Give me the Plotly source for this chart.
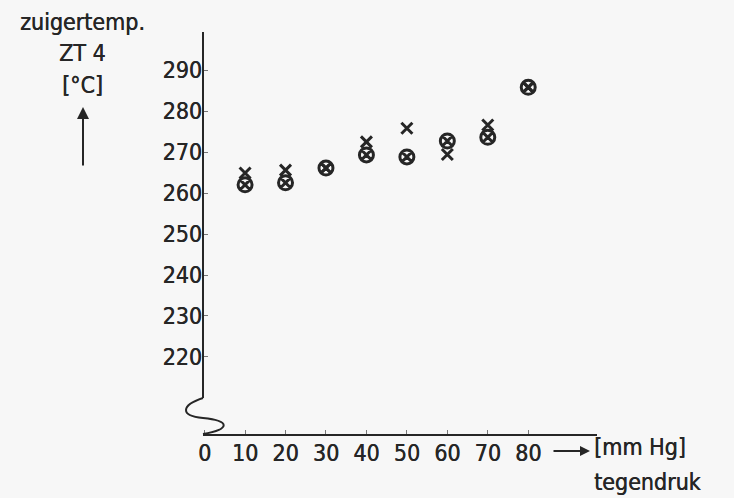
import plotly.graph_objects as go

# data
pressure = [10, 20, 30, 40, 50, 60, 70, 80]
temp_circles = [262.0, 262.5, 266.1, 269.3, 268.8, 272.7, 273.6, 285.8]
temp_crosses = [264.9, 265.6, 266.1, 272.5, 275.8, 269.4, 276.6, 285.8]
y_ticks = [220, 230, 240, 250, 260, 270, 280, 290]
x_ticks = [0, 10, 20, 30, 40, 50, 60, 70, 80]

INK = "#262626"
BG = "#f7f7f7"
FONT = "DejaVu Sans Condensed, DejaVu Sans, sans-serif"
FS = 23
SHADOW = "0.4px 0 0 %s" % INK

def tfont(size=FS):
    return dict(size=size, family=FONT, color=INK, shadow=SHADOW)

fig = go.Figure()
fig.add_trace(go.Scatter(
    x=pressure, y=temp_crosses, mode="markers",
    marker=dict(symbol="x-thin-open", size=11, color=INK, line=dict(color=INK, width=3)),
    showlegend=False, hoverinfo="x+y"))
fig.add_trace(go.Scatter(
    x=pressure, y=temp_circles, mode="markers",
    marker=dict(symbol="circle-x-open", size=14, color=INK, line=dict(color=INK, width=3)),
    showlegend=False, hoverinfo="x+y"))

fig.update_layout(
    width=734, height=498,
    margin=dict(l=203, r=137, t=32, b=64),
    paper_bgcolor=BG, plot_bgcolor=BG,
    font=dict(family=FONT, size=FS, color=INK),
    xaxis=dict(range=[-0.4, 97.0], tickvals=x_ticks, ticktext=[str(v) for v in x_ticks],
               ticks="inside", ticklen=4, tickwidth=1, tickcolor="#777",
               showline=True, linecolor=INK, linewidth=2, showgrid=False, zeroline=False,
               ticklabelstandoff=-3, tickfont=tfont()),
    yaxis=dict(range=[201.2, 299.3], tickvals=y_ticks, ticktext=[str(v) for v in y_ticks],
               ticks="inside", ticklen=5, tickwidth=1, tickcolor="#777",
               showline=False, showgrid=False, zeroline=False,
               tickfont=tfont()),
)

# y axis line with a break squiggle near the bottom
fig.add_shape(type="line", xref="paper", yref="paper", x0=0, x1=0, y0=0.0896, y1=1,
              line=dict(color=INK, width=2))
fig.add_shape(type="path", xref="paper", yref="paper",
              path="M 0,0.0896 C -0.055,0.072 -0.06,0.045 0,0.04 C 0.07,0.033 0.07,0.012 0,0",
              line=dict(color=INK, width=2))

def px_x(px):
    return (px - 203) / 394

def px_y(py):
    return (434 - py) / 402

# y axis title block
for txt, py in [("zuigertemp.", 22), ("ZT 4", 53), ("[°C]", 85)]:
    fig.add_annotation(xref="paper", yref="paper", x=px_x(83), y=px_y(py),
                       xanchor="center", yanchor="middle",
                       text=txt, showarrow=False, font=tfont())
fig.add_annotation(xref="paper", yref="paper", x=px_x(83), y=px_y(107),
                   text="", showarrow=True, ax=0, ay=60, arrowhead=2, arrowsize=1.2,
                   arrowwidth=2, arrowcolor=INK)

# x axis title block
fig.add_annotation(xref="paper", yref="paper", x=px_x(590), y=px_y(451),
                   text="", showarrow=True, ax=-38, ay=0, arrowhead=2, arrowsize=1,
                   arrowwidth=2, arrowcolor=INK)
fig.add_annotation(xref="paper", yref="paper", x=px_x(592), y=px_y(447),
                   xanchor="left", yanchor="middle", text="[mm Hg]", showarrow=False,
                   font=tfont())
fig.add_annotation(xref="paper", yref="paper", x=px_x(592), y=px_y(482),
                   xanchor="left", yanchor="middle", text="tegendruk", showarrow=False,
                   font=tfont())

fig.write_html("out.html", config={"displayModeBar": False},
               post_script="document.body.style.margin='0';document.body.style.background='%s';" % BG)
